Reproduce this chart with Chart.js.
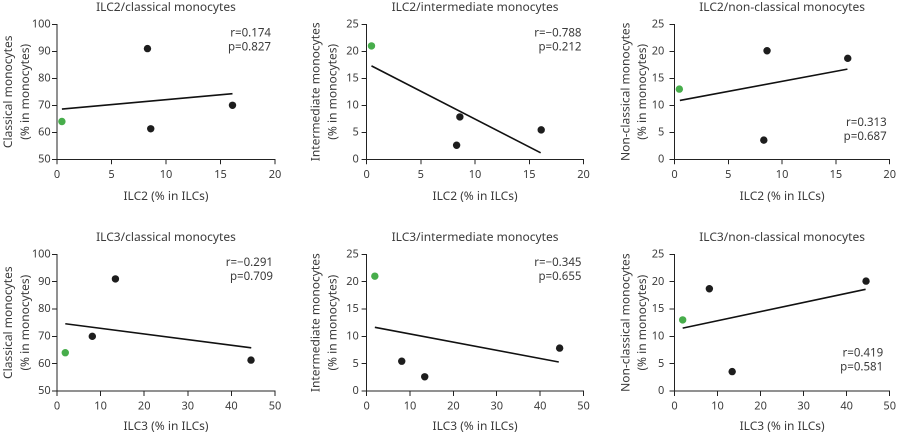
<!DOCTYPE html>
<html><head><meta charset="utf-8">
<script src="https://cdn.jsdelivr.net/npm/chart.js@4.4.1/dist/chart.umd.min.js"></script>
<style>
html,body{margin:0;padding:0;background:#fff;width:900px;height:435px;overflow:hidden}
.p{position:absolute}
</style></head><body>
<div class="p" id="w0"><canvas id="c0"></canvas></div>
<div class="p" id="w1"><canvas id="c1"></canvas></div>
<div class="p" id="w2"><canvas id="c2"></canvas></div>
<div class="p" id="w3"><canvas id="c3"></canvas></div>
<div class="p" id="w4"><canvas id="c4"></canvas></div>
<div class="p" id="w5"><canvas id="c5"></canvas></div>
<script>
// ---- data (first sample shown in green) ----
const ilc2 = [0.45, 8.3, 8.6, 16.1];
const ilc3 = [1.9, 13.4, 44.5, 8.1];
const classical = [64.0, 91.0, 61.3, 70.0];
const intermediate = [21.0, 2.6, 7.85, 5.45];
const nonClassical = [13.0, 3.55, 20.1, 18.7];

// regression line end points
const fitIlc2ClassicalX = [0.45, 16.1], fitIlc2ClassicalY = [68.6, 74.3];
const fitIlc2InterX = [0.45, 16.05], fitIlc2InterY = [17.3, 1.2];
const fitIlc2NonX = [0.5, 16.07], fitIlc2NonY = [10.9, 16.7];
const fitIlc3ClassicalX = [1.9, 44.55], fitIlc3ClassicalY = [74.6, 65.8];
const fitIlc3InterX = [1.9, 44.3], fitIlc3InterY = [11.65, 5.3];
const fitIlc3NonX = [1.9, 44.4], fitIlc3NonY = [11.5, 18.6];

const panelTitles = ['ILC2/classical monocytes','ILC2/intermediate monocytes','ILC2/non-classical monocytes',
  'ILC3/classical monocytes','ILC3/intermediate monocytes','ILC3/non-classical monocytes'];
const xTitles = ['ILC2 (% in ILCs)','ILC3 (% in ILCs)'];
const yTitles = [['Classical monocytes','(% in monocytes)'],['Intermediate monocytes','(% in monocytes)'],['Non-classical monocytes','(% in monocytes)']];
const statR = ['r=0.174','r=\u22120.788','r=0.313','r=\u22120.291','r=\u22120.345','r=0.419'];
const statP = ['p=0.827','p=0.212','p=0.687','p=0.709','p=0.655','p=0.581'];
const yRanges = [[50,100,10],[0,25,5],[0,25,5]];
const xRanges = [[0,20,5],[0,50,10]];

const series = [
  {x: ilc2, y: classical, fx: fitIlc2ClassicalX, fy: fitIlc2ClassicalY},
  {x: ilc2, y: intermediate, fx: fitIlc2InterX, fy: fitIlc2InterY},
  {x: ilc2, y: nonClassical, fx: fitIlc2NonX, fy: fitIlc2NonY},
  {x: ilc3, y: classical, fx: fitIlc3ClassicalX, fy: fitIlc3ClassicalY},
  {x: ilc3, y: intermediate, fx: fitIlc3InterX, fy: fitIlc3InterY},
  {x: ilc3, y: nonClassical, fx: fitIlc3NonX, fy: fitIlc3NonY},
];

// ---- layout (page pixels) ----
const cols = [
  {left:0, w:300, l:57, r:275, yPadTitle:0.3, tickPad:1.3},
  {left:300, w:300, l:366.6, r:583.5, yPadTitle:7.8, tickPad:2.8},
  {left:600, w:300, l:674.5, r:892.5, yPadTitle:17.6, tickPad:5.2},
];
const rows = [
  {top:0, h:205, t:24.3, b:159.3, titleC:7.5},
  {top:226, h:209, t:254.3, b:391, titleC:237.5},
];
const statPos = [
  {dx:-4, dy:9}, {dx:-2, dy:9}, {dx:-3, dy:98.5},
  {dx:-2, dy:8.5}, {dx:-2, dy:8.5}, {dx:-6.5, dy:99},
];

const FONT = "'Noto Sans', sans-serif";
const TXT = '#3a3a3a';
const AX = '#222';
const BLACK = '#1d1d1d', GREEN = '#47ad4b';

const statsPlugin = {
  id: 'stats',
  afterDatasetsDraw(chart, args, o) {
    const ctx = chart.ctx, a = chart.chartArea;
    ctx.save();
    ctx.font = '11.5px ' + FONT;
    ctx.fillStyle = TXT;
    ctx.textAlign = 'right';
    ctx.textBaseline = 'middle';
    o.lines.forEach((t, i) => ctx.fillText(t, a.right + o.dx, a.top + o.dy + i * 14));
    ctx.restore();
  }
};

for (let i = 0; i < 6; i++) {
  const col = cols[i % 3], row = rows[Math.floor(i / 3)];
  const s = series[i];
  const xr = xRanges[Math.floor(i / 3)], yr = yRanges[i % 3];
  const w = document.getElementById('w' + i);
  w.style.left = col.left + 'px'; w.style.top = row.top + 'px';
  w.style.width = col.w + 'px'; w.style.height = row.h + 'px';
  const yW = col.l - col.left;
  const xH = row.top + row.h - row.b;
  const titleBlock = row.t - row.top;
  const tLH = 14.4;
  const tPadTop = row.titleC - row.top - tLH / 2;
  const tPadBottom = titleBlock - tPadTop - tLH;
  const pts = s.x.map((v, k) => ({x: v, y: s.y[k]}));
  const fit = s.fx.map((v, k) => ({x: v, y: s.fy[k]}));
  new Chart(document.getElementById('c' + i), {
    type: 'scatter',
    data: {
      datasets: [
        {data: pts, pointRadius: 3.7, pointHoverRadius: 3.7, borderWidth: 0,
         pointBackgroundColor: pts.map((p, k) => k === 0 ? GREEN : BLACK),
         pointBorderColor: pts.map((p, k) => k === 0 ? GREEN : BLACK)},
        {data: fit, showLine: true, pointRadius: 0, borderColor: '#111', borderWidth: 1.6, fill: false}
      ]
    },
    options: {
      responsive: true, maintainAspectRatio: false, animation: false,
      devicePixelRatio: 2,
      layout: {padding: {left: 0, top: 0, bottom: 0, right: col.left + col.w - col.r}},
      plugins: {
        legend: {display: false}, tooltip: {enabled: false},
        title: {display: true, fullSize: false, text: panelTitles[i], color: TXT,
          font: {family: FONT, size: 12, weight: 'normal', lineHeight: 1.2},
          padding: {top: tPadTop, bottom: tPadBottom}},
        stats: {lines: [statR[i], statP[i]], dx: statPos[i].dx, dy: statPos[i].dy}
      },
      scales: {
        x: {type: 'linear', min: xr[0], max: xr[1],
          ticks: {stepSize: xr[2], color: TXT, font: {family: FONT, size: 11}, padding: 4, maxRotation: 0},
          grid: {drawOnChartArea: false, drawTicks: true, tickLength: 5, color: AX},
          border: {display: true, color: AX, width: 1},
          title: {display: true, text: xTitles[Math.floor(i / 3)], color: TXT,
            font: {family: FONT, size: 12, lineHeight: 1.2}, padding: {top: 0, bottom: 1.1}},
          afterFit: sc => { sc.height = xH; }
        },
        y: {type: 'linear', min: yr[0], max: yr[1],
          ticks: {stepSize: yr[2], color: TXT, font: {family: FONT, size: 11}, padding: col.tickPad},
          grid: {drawOnChartArea: false, drawTicks: true, tickLength: 5, color: AX},
          border: {display: true, color: AX, width: 1},
          title: {display: true, text: yTitles[i % 3], color: TXT,
            font: {family: FONT, size: 12, lineHeight: 1.4}, padding: {top: col.yPadTitle, bottom: 0}},
          afterFit: sc => { sc.width = yW; }
        }
      }
    },
    plugins: [statsPlugin]
  });
}
</script>
</body></html>
